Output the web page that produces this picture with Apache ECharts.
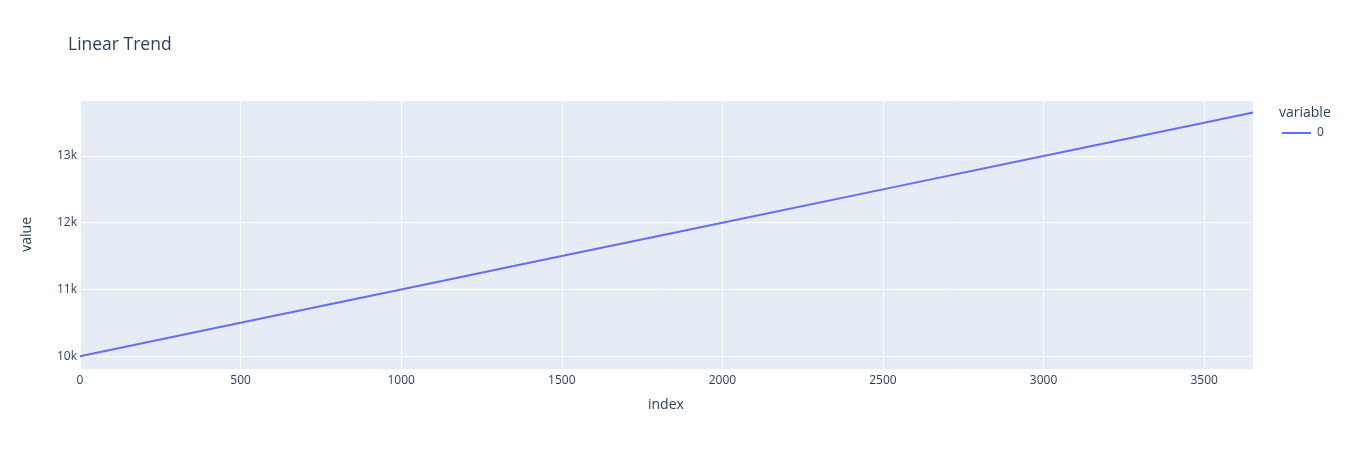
<!DOCTYPE html>
<html>
<head>
<meta charset="utf-8">
<script src="https://cdn.jsdelivr.net/npm/echarts@6/dist/echarts.min.js"></script>
<style>
html,body{margin:0;padding:0;background:#fff;}
#chart{width:1348px;height:450px;}
</style>
</head>
<body>
<div id="chart"></div>
<script>
// Data (linear trend, index vs value)
const indexValues = [0, 500, 1000, 1500, 2000, 2500, 3000, 3500, 3652];
const seriesValues = [10000, 10500, 11000, 11500, 12000, 12500, 13000, 13500, 13652];
const seriesName = '0';
const legendTitle = 'variable';
const chartTitle = 'Linear Trend';
const xAxisTitle = 'index';
const yAxisTitle = 'value';

const FONT = '"Open Sans", "Noto Sans", sans-serif';
const TXT = '#2a3f5f';

const chart = echarts.init(document.getElementById('chart'), null, {renderer: 'canvas'});
chart.setOption({
  animation: false,
  backgroundColor: '#ffffff',
  title: {
    text: chartTitle,
    left: 63, top: 31,
    textStyle: {fontFamily: FONT, fontSize: 17.5, fontWeight: 'normal', color: TXT}
  },
  grid: {
    left: 80, right: 95, top: 100, bottom: 80.5,
    show: true, backgroundColor: '#E5ECF6', borderWidth: 0
  },
  xAxis: {
    type: 'value',
    min: 0, max: 3652, interval: 500,
    axisLine: {show: false},
    axisTick: {show: false},
    splitLine: {show: true, lineStyle: {color: '#ffffff', width: 1}},
    axisLabel: {
      show: true, showMaxLabel: false, margin: 5,
      fontFamily: FONT, fontSize: 12, color: TXT,
      formatter: v => String(v)
    }
  },
  yAxis: {
    type: 'value',
    min: 9800, max: 13840, splitNumber: 4,
    axisLine: {show: false},
    axisTick: {show: false},
    splitLine: {show: true, lineStyle: {color: '#ffffff', width: 1}},
    axisLabel: {
      showMinLabel: false, showMaxLabel: false, margin: 3,
      fontFamily: FONT, fontSize: 12, color: TXT,
      formatter: v => (v / 1000) + 'k'
    }
  },
  legend: {
    left: 1282, top: 127, padding: 0,
    icon: 'rect', itemWidth: 29, itemHeight: 2, itemGap: 4,
    textStyle: {fontFamily: FONT, fontSize: 12, color: TXT, padding: [0, 0, 0, 1]},
    data: [seriesName]
  },
  graphic: [
    {type: 'text', left: 1279, top: 106, style: {text: legendTitle, font: '14px ' + FONT, fill: TXT}},
    {type: 'text', left: 648, top: 398, style: {text: xAxisTitle, font: '14px ' + FONT, fill: TXT}},
    {type: 'text', left: 20, top: 217, rotation: Math.PI / 2, style: {text: yAxisTitle, font: '14px ' + FONT, fill: TXT}}
  ],
  series: [{
    name: seriesName,
    type: 'line',
    data: indexValues.map((x, i) => [x, seriesValues[i]]),
    showSymbol: false,
    symbol: 'none',
    lineStyle: {color: '#636efa', width: 2},
    itemStyle: {color: '#636efa'}
  }]
});
</script>
</body>
</html>
